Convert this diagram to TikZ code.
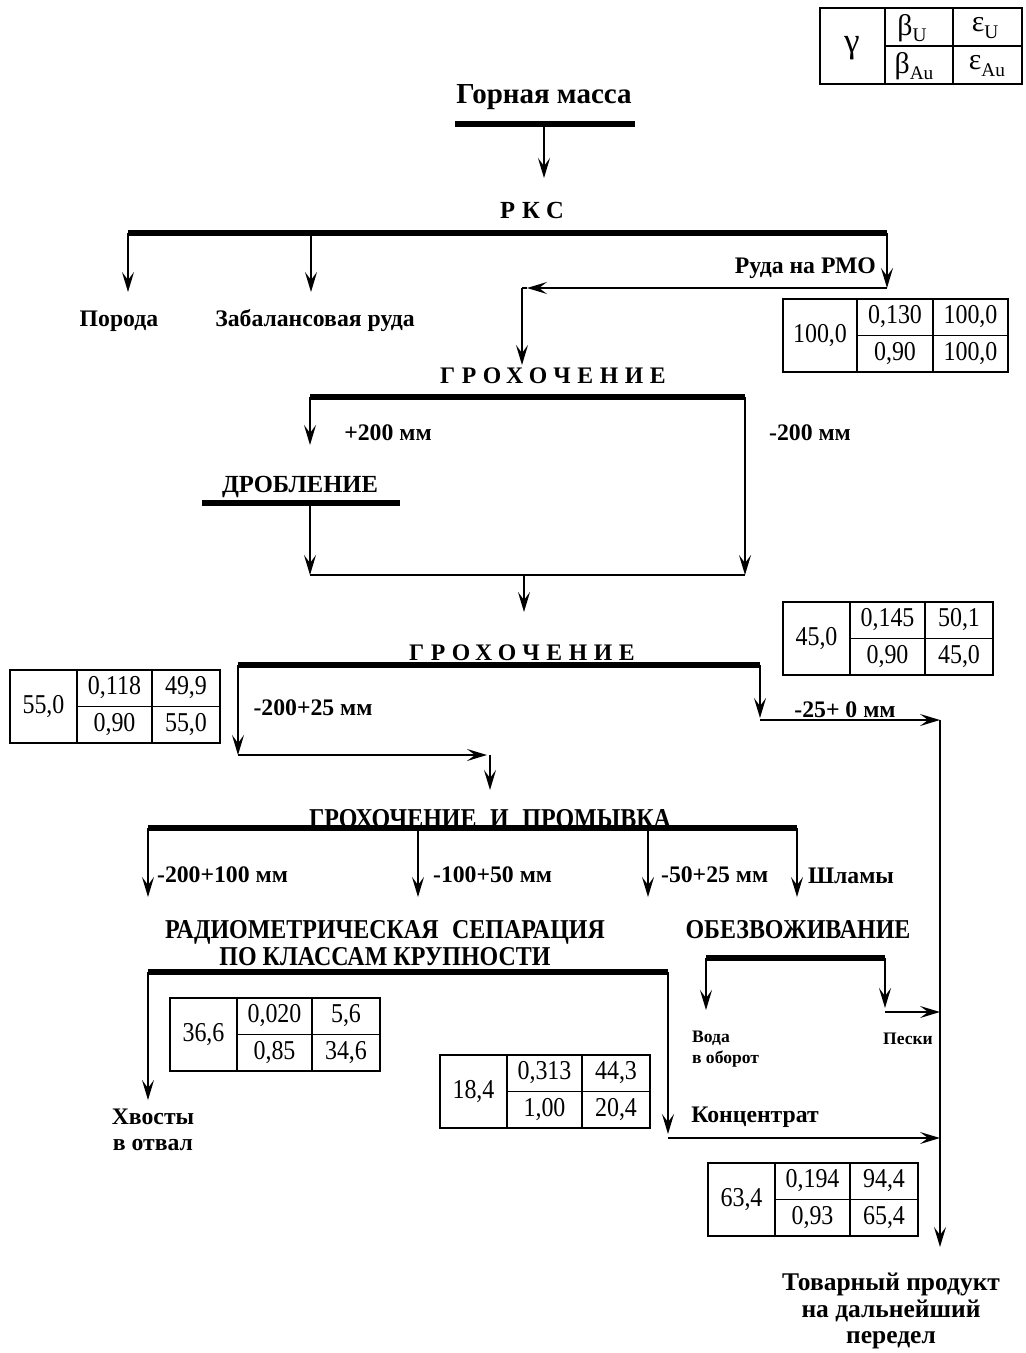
\documentclass[tikz,border=0pt]{standalone}
\usepackage{fontspec}
\setmainfont{Liberation Serif}
\newfontfamily\condser[FakeStretch=0.88]{Liberation Serif}
\newfontfamily\spaced[LetterSpace=28]{Liberation Serif}
\usetikzlibrary{arrows.meta}

% lowered index for the legend
\newcommand{\idx}[1]{\raisebox{-0.45ex}{\fontsize{11}{12}\selectfont #1}}
% column widths of a balance table
\newcommand{\colA}{67}
\newcommand{\colB}{75}
\newcommand{\colC}{68}
% balance table: name, x, y, gamma, beta U, eps U, beta Au, eps Au
\newcommand{\baltab}[8]{%
  \draw[tab] (#2,#3) rectangle ++(\colA+\colB+\colC,73);
  \draw[tab] (#2+\colA,#3) -- ++(0,73);
  \draw[tab] (#2+\colA+\colB,#3) -- ++(0,73);
  \draw[tab] (#2+\colA,#3+36.5) -- ++(\colB+\colC,0);
  \node[num] (#1g) at (#2+\colA/2,#3+36.5) {#4};
  \node[num] (#1bu) at (#2+\colA+\colB/2,#3+18) {#5};
  \node[num] (#1eu) at (#2+\colA+\colB+\colC/2,#3+18) {#6};
  \node[num] (#1ba) at (#2+\colA+\colB/2,#3+55) {#7};
  \node[num] (#1ea) at (#2+\colA+\colB+\colC/2,#3+55) {#8};
}

\begin{document}
\begin{tikzpicture}[x=0.02cm, y=-0.02cm,
    lbl/.style={font=\bfseries\fontsize{13.5}{15}\selectfont, inner sep=1pt},
    head/.style={font=\bfseries\fontsize{14}{15.5}\selectfont, inner sep=1pt, align=center},
    sphead/.style={font=\spaced\bfseries\fontsize{13.5}{16}\selectfont, inner sep=1pt},
    small/.style={font=\bfseries\fontsize{10}{12}\selectfont, align=left, inner sep=1pt},
    num/.style={font=\condser\fontsize{15.5}{17}\selectfont, inner sep=0pt},
    tab/.style={line width=0.8pt},
    bar/.style={line width=3.4pt},
    ln/.style={line width=0.9pt},
    arr/.style={ln, -{Stealth[length=4mm, width=2.4mm, inset=1.6mm]}}]
  \useasboundingbox (0,0) rectangle (1025,1353);

  % legend
  \draw[tab] (820,8) rectangle (1022,84);
  \draw[tab] (885,8) -- (885,84) (953,8) -- (953,84) (885,46) -- (1022,46);
  \node[font=\fontsize{20}{22}\selectfont] (lg) at (852,48) {γ};
  \node[font=\fontsize{17}{19}\selectfont] (lbu) at (912,28) {β\idx{U}};
  \node[font=\fontsize{17}{19}\selectfont] (leu) at (985,28) {ε\idx{U}};
  \node[font=\fontsize{17}{19}\selectfont] (lba) at (914,66) {β\idx{Au}};
  \node[font=\fontsize{17}{19}\selectfont] (lea) at (987,66) {ε\idx{Au}};

  % rock mass
  \node[head, font=\bfseries\fontsize{16.5}{18}\selectfont] (gm) at (544,97) {Горная масса};
  \coordinate (gmL) at (455,124); \coordinate (gmR) at (635,124);
  \coordinate (gmO) at (544,124); \coordinate (rksIn) at (544,178);
  \draw[bar] (gmL) -- (gmR);
  \draw[arr] (gmO) -- (rksIn);

  % RKS
  \node[sphead, font=\spaced\bfseries\fontsize{14}{16}\selectfont] (rks) at (532,210) {РКС};
  \coordinate (rksL) at (128,233); \coordinate (rksR) at (887,233);
  \coordinate (rksM) at (311,233);
  \draw[bar] (rksL) -- (rksR);
  \node[lbl] (porod) at (119,321) {Порода};
  \node[lbl] (zabal) at (315,321) {Забалансовая руда};
  \node[lbl, anchor=east] (rmo) at (878,268) {Руда на РМО};
  \coordinate (porIn) at (128,292); \coordinate (zabIn) at (311,292);
  \coordinate (rmoT) at (887,288); \coordinate (rmoA) at (527,288);
  \coordinate (rmoC) at (522,288); \coordinate (g1In) at (522,365);
  \draw[arr] (rksL) -- (porIn);
  \draw[arr] (rksM) -- (zabIn);
  \draw[arr] (rksR) -- (rmoT);
  \draw[arr] (rmoT) -- (rmoA);
  \draw[ln] (rmoA) -- (rmoC);
  \draw[arr] (rmoC) -- (g1In);
  {\renewcommand{\colA}{74}\renewcommand{\colB}{76}\renewcommand{\colC}{75}
  \baltab{ta}{783}{299}{100,0}{0,130}{100,0}{0,90}{100,0}}

  % first screening
  \node[sphead] (g1) at (553,376) {ГРОХОЧЕНИЕ};
  \coordinate (g1L) at (310,397); \coordinate (g1R) at (745,397);
  \draw[bar] (g1L) -- (g1R);
  \node[lbl] (p200) at (388,433) {+200 мм};
  \node[lbl] (m200) at (810,433) {-200 мм};
  \coordinate (drIn) at (310,445);
  \draw[arr] (g1L) -- (drIn);

  % crushing
  \node[lbl, font=\bfseries\fontsize{14}{15}\selectfont] (dr) at (300,487) {ДРОБЛЕНИЕ};
  \coordinate (drL) at (202,503); \coordinate (drR) at (400,503);
  \coordinate (drO) at (310,503);
  \draw[bar] (drL) -- (drR);
  \coordinate (jL) at (310,575); \coordinate (jR) at (745,575);
  \coordinate (jM) at (524,575); \coordinate (g2In) at (524,612);
  \draw[arr] (drO) -- (jL);
  \draw[arr] (g1R) -- (jR);
  \draw[ln] (jL) -- (jR);
  \draw[arr] (jM) -- (g2In);

  % second screening
  \node[sphead] (g2) at (522,653) {ГРОХОЧЕНИЕ};
  \coordinate (g2L) at (238,665); \coordinate (g2R) at (760,665);
  \draw[bar] (g2L) -- (g2R);
  \node[lbl] (c200) at (313,708) {-200+25 мм};
  \node[lbl] (c25) at (845,710) {-25+ 0 мм};
  \coordinate (g2Lb) at (238,755); \coordinate (g2La) at (487,755);
  \coordinate (g2Lc) at (490,755); \coordinate (g3In) at (490,790);
  \coordinate (g2Rb) at (760,718); \coordinate (g2Rc) at (760,720);
  \coordinate (colT) at (940,720); \coordinate (prodIn) at (940,1247);
  \draw[arr] (g2L) -- (g2Lb);
  \draw[arr] (g2Lb) -- (g2La);
  \draw[arr] (g2Lc) -- (g3In);
  \draw[arr] (g2R) -- (g2Rb);
  \draw[arr] (g2Rc) -- (colT);
  \draw[arr] (colT) -- (prodIn);
  \baltab{tb}{10}{670}{55,0}{0,118}{49,9}{0,90}{55,0}
  \baltab{tc}{783}{602}{45,0}{0,145}{50,1}{0,90}{45,0}

  % screening and washing
  \node[lbl, font=\condser\bfseries\fontsize{15.5}{16}\selectfont] (g3) at (490,819) {ГРОХОЧЕНИЕ\enspace И\enspace ПРОМЫВКА};
  \coordinate (g3L) at (148,828); \coordinate (g3R) at (797,828);
  \coordinate (g3a) at (418,828); \coordinate (g3b) at (648,828);
  \draw[bar] (g3L) -- (g3R);
  \coordinate (k1) at (148,897); \coordinate (k2) at (418,897);
  \coordinate (k3) at (648,897); \coordinate (k4) at (797,897);
  \draw[arr] (g3L) -- (k1);
  \draw[arr] (g3a) -- (k2);
  \draw[arr] (g3b) -- (k3);
  \draw[arr] (g3R) -- (k4);
  \node[lbl, anchor=west] (k1t) at (155,875) {-200+100 мм};
  \node[lbl, anchor=west] (k2t) at (431,875) {-100+50 мм};
  \node[lbl, anchor=west] (k3t) at (659,875) {-50+25 мм};
  \node[lbl, anchor=west] (k4t) at (806,876) {Шламы};

  % radiometric separation
  \node[head, font=\condser\bfseries\fontsize{15.5}{15.5}\selectfont] (rs) at (385,943)
    {РАДИОМЕТРИЧЕСКАЯ\enspace СЕПАРАЦИЯ\\ПО КЛАССАМ КРУПНОСТИ};
  \coordinate (rsL) at (148,972); \coordinate (rsR) at (668,972);
  \draw[bar] (rsL) -- (rsR);
  \coordinate (tlIn) at (148,1100); \coordinate (cnA) at (668,1134);
  \coordinate (cnB) at (668,1138); \coordinate (cnC) at (940,1138);
  \draw[arr] (rsL) -- (tlIn);
  \draw[arr] (rsR) -- (cnA);
  \draw[arr] (cnB) -- (cnC);
  \node[lbl, align=center] (tail) at (153,1130) {Хвосты\\в отвал};
  \node[lbl] (conc) at (755,1117) {Концентрат};
  \baltab{td}{170}{998}{36,6}{0,020}{5,6}{0,85}{34,6}
  \baltab{te}{440}{1055}{18,4}{0,313}{44,3}{1,00}{20,4}

  % dewatering
  \node[lbl, font=\condser\bfseries\fontsize{15.5}{16}\selectfont] (ob) at (798,930) {ОБЕЗВОЖИВАНИЕ};
  \coordinate (obL) at (706,958); \coordinate (obR) at (885,958);
  \draw[bar] (obL) -- (obR);
  \coordinate (vIn) at (706,1010); \coordinate (pIn) at (885,1008);
  \coordinate (pB) at (885,1012); \coordinate (pC) at (940,1012);
  \draw[arr] (obL) -- (vIn);
  \draw[arr] (obR) -- (pIn);
  \draw[arr] (pB) -- (pC);
  \node[small, anchor=west] (voda) at (690,1049) {Вода\\в оборот};
  \node[small] (pesk) at (908,1039) {Пески};

  % product
  \baltab{tf}{708}{1163}{63,4}{0,194}{94,4}{0,93}{65,4}
  \node[lbl, align=center, font=\bfseries\fontsize{14.5}{15.3}\selectfont] (prod) at (891,1311)
    {Товарный продукт\\на дальнейший\\передел};
\end{tikzpicture}
\end{document}
